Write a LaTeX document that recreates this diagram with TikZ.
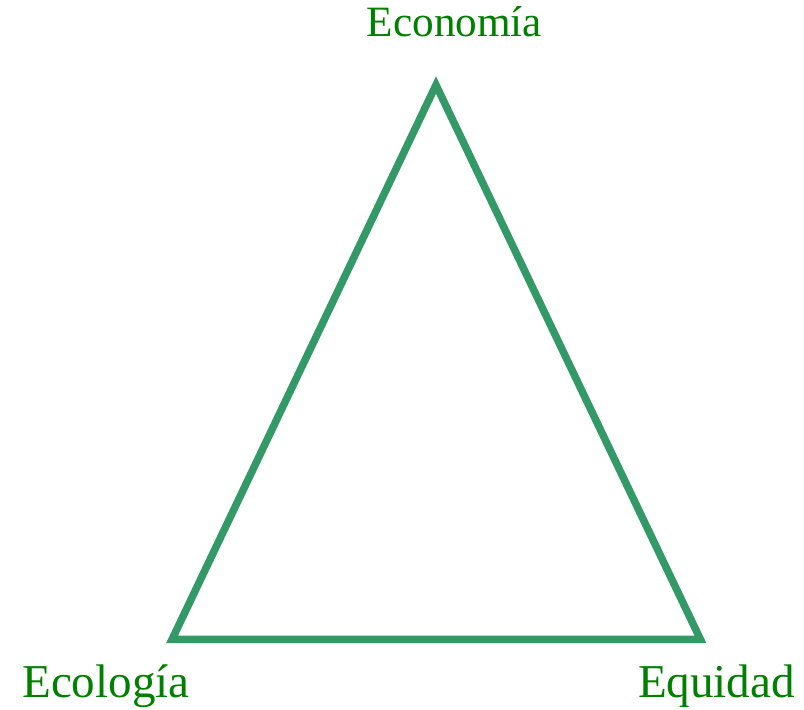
\documentclass[tikz,border=0pt]{standalone}
\usepackage{fontspec}
\setmainfont{Liberation Serif}
\usetikzlibrary{positioning}
\definecolor{edgegreen}{RGB}{51,153,102}
\definecolor{labelgreen}{RGB}{0,128,0}
\tikzset{
  side/.style={draw=edgegreen,line width=0.075cm,line join=miter},
  pillar/.style={text=labelgreen,anchor=base,inner sep=0pt,font=\fontsize{13.4}{16}\selectfont},
  toppillar/.style={pillar,font=\fontsize{12.3}{15}\selectfont},
}
\begin{document}
\begin{tikzpicture}[x=1cm,y=1cm]
  \path[use as bounding box] (0,0) rectangle (8.04,7.10);
  \coordinate (top) at (4.36,6.25);
  \coordinate (left) at (1.72,0.705);
  \coordinate (right) at (7.005,0.705);
  \draw[side] (top) -- (left) -- (right) -- cycle;

  \node[toppillar] (economia) at (4.545,6.73) {Economía};
  \node[pillar] (ecologia) at (1.06,0.12) {Ecología};
  \node[pillar] (equidad) at (7.165,0.12) {Equidad};
\end{tikzpicture}
\end{document}
